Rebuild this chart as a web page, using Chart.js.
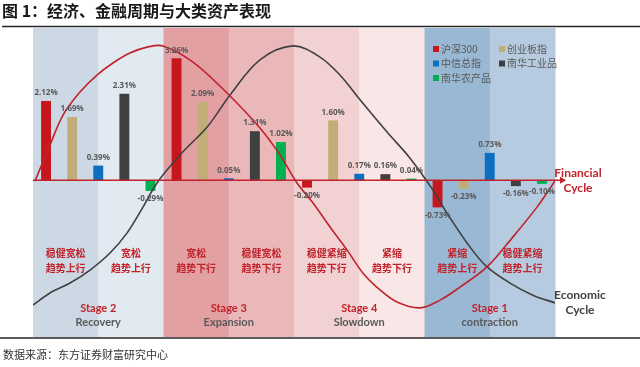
<!DOCTYPE html>
<html lang="zh">
<head>
<meta charset="UTF-8">
<title>经济、金融周期与大类资产表现</title>
<script src="https://cdn.jsdelivr.net/npm/chart.js"></script>
<style>
    body {
        margin: 0;
        background: #ffffff;
    }
    #chart {
        display: block;
    }
</style>
</head>
<body>
<canvas id="chart" width="640" height="367"></canvas>
<script>
    // categories
    const stages = ['Stage 2', 'Stage 3', 'Stage 4', 'Stage 1'];
    const phases = ['Recovery', 'Expansion', 'Slowdown', 'contraction'];
    const bandLabels = [
        ['稳健宽松', '趋势上行'], ['宽松', '趋势上行'],
        ['宽松', '趋势下行'], ['稳健宽松', '趋势下行'],
        ['稳健紧缩', '趋势下行'], ['紧缩', '趋势下行'],
        ['紧缩', '趋势上行'], ['稳健紧缩', '趋势上行']
    ];

    // series (%), one value per stage
    const seriesNames = ['沪深300', '创业板指', '中信总指', '南华工业品', '南华农产品'];
    const hs300 = [2.12, 3.26, -0.20, -0.73];
    const chinext = [1.69, 2.09, 1.60, -0.23];
    const citicIdx = [0.39, 0.05, 0.17, 0.73];
    const nhIndustrial = [2.31, 1.31, 0.16, -0.16];
    const nhAgri = [-0.29, 1.02, 0.04, -0.10];

    // cycle curves: [stage position 0..4, level 0..100]
    const financialCycle = [
        [0.015, 50.3], [0.13, 61.9], [0.23, 71.6], [0.36, 79.0], [0.49, 84.5],
        [0.613, 88.4], [0.743, 91.6], [0.874, 93.5], [0.996, 93.9], [1.226, 88.7],
        [1.487, 78.7], [1.739, 67.4], [1.893, 58.7], [2.023, 49.7], [2.146, 43.2],
        [2.276, 35.5], [2.406, 28.1], [2.529, 20.6], [2.659, 15.2], [2.789, 11.3],
        [2.966, 9.4], [3.119, 11.9], [3.272, 16.1], [3.479, 22.6], [3.678, 32.3],
        [3.862, 41.9], [4.0, 50.3]
    ];
    const economicCycle = [
        [0.0, 10.3], [0.13, 14.2], [0.284, 17.4], [0.437, 21.6], [0.59, 27.1],
        [0.72, 33.5], [0.843, 41.9], [0.95, 49.7], [1.126, 58.7], [1.341, 68.1],
        [1.51, 78.1], [1.739, 89.4], [1.992, 93.9], [2.199, 90.3], [2.352, 84.5],
        [2.506, 76.5], [2.713, 66.1], [2.889, 57.7], [3.065, 47.4], [3.172, 40.0],
        [3.349, 29.0], [3.479, 22.6], [3.655, 17.4], [3.831, 13.5], [4.0, 11.0]
    ];

    const COLORS = {
        red: '#c8161e',
        tan: '#c2ad78',
        blue: '#0c6fc0',
        dark: '#404040',
        green: '#00b050',
        curveRed: '#c0232b',
        text: '#595959'
    };
    const BAND_COLORS = ['#ccd9e5', '#e1e9f1', '#e3a0a3', '#ebb8ba', '#f2d1d2', '#f9e6e6', '#98b8d4', '#b6cbdf'];
    const CJK = '"Noto Sans CJK SC", sans-serif';
    const LAT = 'Lato, "Open Sans", sans-serif';

    // stage i sits in the middle of [i, i+1] on the shared linear x axis
    const stageCenter = i => i + 0.5;

    const barSet = (label, values, color) => ({
        type: 'bar',
        label: label,
        data: values.map((v, i) => ({ x: stageCenter(i), y: v })),
        backgroundColor: color,
        categoryPercentage: 1,
        barPercentage: 0.38,
        order: 2
    });

    const curveSet = (label, points, color) => ({
        type: 'line',
        label: label,
        data: points.map(p => ({ x: p[0], y: p[1] })),
        yAxisID: 'yc',
        borderColor: color,
        borderWidth: 1.6,
        pointRadius: 0,
        tension: 0.35,
        fill: false,
        order: 1
    });

    const decorPlugin = {
        id: 'decor',
        beforeDatasetsDraw(chart) {
            const c = chart.ctx;
            const area = chart.chartArea;
            const xs = chart.scales.x;
            c.save();
            BAND_COLORS.forEach((col, i) => {
                const left = xs.getPixelForValue(i / 2);
                const right = xs.getPixelForValue((i + 1) / 2);
                c.fillStyle = col;
                c.fillRect(left, area.top + 1, right - left + 0.5, area.bottom - area.top - 1);
            });

            // band texts
            c.textAlign = 'center';
            c.textBaseline = 'middle';
            c.fillStyle = COLORS.curveRed;
            c.font = 'bold 10px ' + CJK;
            bandLabels.forEach((lines, i) => {
                const cx = xs.getPixelForValue(i / 2 + 0.25);
                c.fillText(lines[0], cx, area.top + 226);
                c.fillText(lines[1], cx, area.top + 241);
            });

            // stage names
            stages.forEach((s, i) => {
                const cx = xs.getPixelForValue(stageCenter(i));
                c.font = 'bold 11px ' + LAT;
                c.fillStyle = COLORS.curveRed;
                c.fillText(s, cx, area.top + 281);
                c.fillStyle = COLORS.text;
                c.fillText(phases[i], cx, area.top + 295);
            });
            c.restore();
        },
        afterDatasetsDraw(chart) {
            const c = chart.ctx;
            const area = chart.chartArea;
            const y0 = chart.scales.y.getPixelForValue(0);
            c.save();

            // zero axis (financial cycle axis) with arrow
            c.strokeStyle = COLORS.curveRed;
            c.lineWidth = 1.5;
            c.beginPath();
            c.moveTo(area.left, y0);
            c.lineTo(area.right + 8, y0);
            c.stroke();
            c.fillStyle = COLORS.curveRed;
            c.beginPath();
            c.moveTo(area.right + 11, y0);
            c.lineTo(area.right + 5, y0 - 3.5);
            c.lineTo(area.right + 5, y0 + 3.5);
            c.fill();

            // value labels
            c.font = 'bold 8px "Open Sans", sans-serif';
            c.fillStyle = COLORS.text;
            c.textAlign = 'center';
            c.textBaseline = 'middle';
            chart.data.datasets.forEach((ds, di) => {
                if (ds.type !== 'bar') return;
                chart.getDatasetMeta(di).data.forEach((bar, i) => {
                    const v = ds.data[i].y;
                    const ty = v >= 0 ? bar.y - 8 : bar.y + 8;
                    c.fillText(v.toFixed(2) + '%', bar.x, ty);
                });
            });

            // legend
            c.font = '10px ' + CJK;
            c.textAlign = 'left';
            chart.data.datasets.forEach((ds, di) => {
                if (ds.type !== 'bar') return;
                const lx = area.left + 400 + (di % 2) * 66;
                const ly = area.top + 22 + Math.floor(di / 2) * 14.5;
                c.fillStyle = ds.backgroundColor;
                c.fillRect(lx, ly - 3, 6, 6);
                c.fillStyle = COLORS.text;
                c.fillText(ds.label, lx + 8, ly);
            });

            // cycle names
            c.textAlign = 'center';
            c.font = 'bold 12px ' + LAT;
            c.fillStyle = COLORS.curveRed;
            c.fillText('Financial', area.right + 23, y0 - 7);
            c.fillText('Cycle', area.right + 23, y0 + 8);
            c.fillStyle = COLORS.dark;
            c.fillText('Economic', area.right + 25, area.top + 268);
            c.fillText('Cycle', area.right + 25, area.top + 283);

            // title, rules and source
            c.textAlign = 'left';
            c.fillStyle = '#1a1a1a';
            c.font = 'bold 16px ' + CJK;
            c.fillText('图 1：经济、金融周期与大类资产表现', 2, 11);
            c.strokeStyle = '#262626';
            c.lineWidth = 1.5;
            c.beginPath();
            c.moveTo(2, area.top - 0.5);
            c.lineTo(640, area.top - 0.5);
            c.moveTo(0, area.bottom + 1);
            c.lineTo(640, area.bottom + 1);
            c.stroke();
            c.fillStyle = '#333333';
            c.font = '11px ' + CJK;
            c.fillText('数据来源：东方证券财富研究中心', 3, 355);
            c.restore();
        }
    };

    const config = {
        type: 'bar',
        data: {
            datasets: [
                barSet(seriesNames[0], hs300, COLORS.red),
                barSet(seriesNames[1], chinext, COLORS.tan),
                barSet(seriesNames[2], citicIdx, COLORS.blue),
                barSet(seriesNames[3], nhIndustrial, COLORS.dark),
                barSet(seriesNames[4], nhAgri, COLORS.green),
                curveSet('Financial Cycle', financialCycle, COLORS.curveRed),
                curveSet('Economic Cycle', economicCycle, COLORS.dark)
            ]
        },
        options: {
            responsive: false,
            animation: false,
            events: [],
            layout: {
                padding: { left: 33, right: 85, top: 27, bottom: 30 }
            },
            plugins: {
                legend: { display: false },
                tooltip: { enabled: false },
                title: { display: false }
            },
            scales: {
                x: {
                    type: 'linear', display: false, min: 0, max: stages.length,
                    offset: false, ticks: { stepSize: 1 }, grid: { offset: false }
                },
                y: { display: false, min: -4.2, max: 4.1 },
                yc: { type: 'linear', display: false, min: 0, max: 100 }
            }
        },
        plugins: [decorPlugin]
    };

    const chart = new Chart(document.getElementById('chart'), config);
</script>
</body>
</html>
